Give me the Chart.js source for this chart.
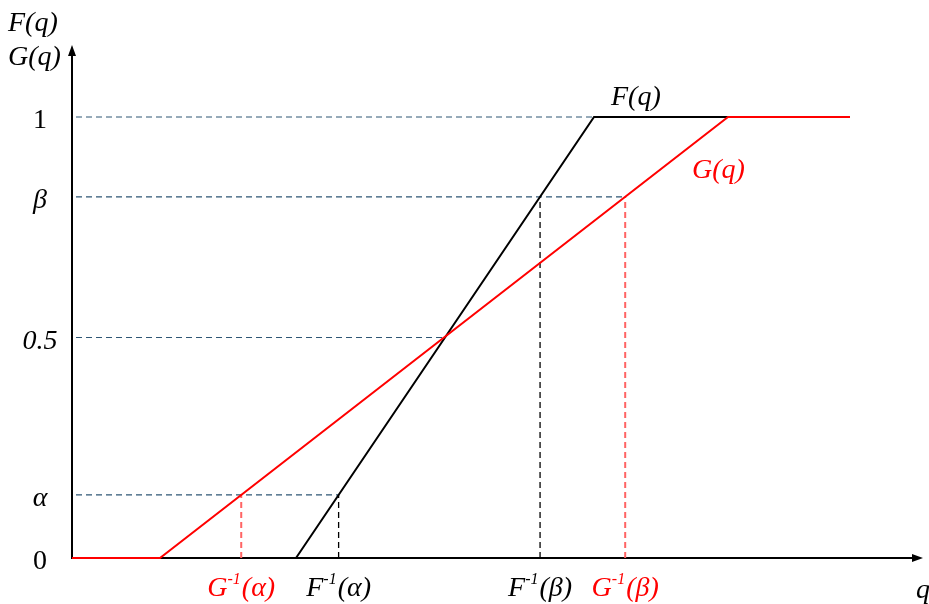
<!DOCTYPE html>
<html>
<head>
<meta charset="utf-8">
<script src="https://cdn.jsdelivr.net/npm/chart.js@4/dist/chart.umd.min.js"></script>
<style>
  html, body { margin: 0; padding: 0; background: #fff; }
  #wrap { width: 929px; height: 604px; position: relative; }
</style>
</head>
<body>
<div id="wrap"><canvas id="cdfChart"></canvas></div>
<script>
// Piecewise-linear CDFs, q in arbitrary units
const fQ = [22.4, 52.2, 77.8];
const fP = [0, 1, 1];
const gQ = [0, 8.8, 65.6, 77.8];
const gP = [0, 0, 1, 1];

// probability levels shown on the vertical axis
const alpha = 0.143;
const beta = 0.819;
const yTickValues = [0, alpha, 0.5, beta, 1];
const yTickLabels = ['0', 'α', '0.5', 'β', '1'];
const yTickItalic = [false, true, true, true, false];

const serif = '"Liberation Serif", "Times New Roman", serif';

// inverse of a rising piecewise-linear CDF
function inverse(qs, ps, p) {
    for (let i = 1; i < qs.length; i++) {
        if (ps[i] > ps[i - 1] && p >= ps[i - 1] && p <= ps[i]) {
            return qs[i - 1] + (p - ps[i - 1]) / (ps[i] - ps[i - 1]) * (qs[i] - qs[i - 1]);
        }
    }
    return qs[qs.length - 1];
}

const fA = inverse(fQ, fP, alpha), gA = inverse(gQ, gP, alpha);
const fB = inverse(fQ, fP, beta), gB = inverse(gQ, gP, beta);
// where both curves meet (0.5 level)
const crossQ = inverse(fQ, fP, 0.5);

const xTicks = [gA, fA, fB, gB];
const xTickNames = [['G', '(α)'], ['F', '(α)'], ['F', '(β)'], ['G', '(β)']];
const xTickColors = ['#ff0000', '#000', '#000', '#ff0000'];

const toPts = (qs, ps) => qs.map((q, i) => ({ x: q, y: ps[i] }));

const startQ = 0.4;
const hGuide = (y, q) => ({
    data: [{ x: startQ, y: y }, { x: q, y: y }],
    showLine: true, borderColor: '#2e5674', borderWidth: 1.2, borderDash: [6, 4],
    pointRadius: 0, clip: false
});
const vGuide = (q, y, color, w) => ({
    data: [{ x: q, y: 0 }, { x: q, y: y }],
    showLine: true, borderColor: color, borderWidth: w, borderDash: [6, 4],
    pointRadius: 0, clip: false
});

// axes and arrows under the curves, text on top
const drawExtras = {
    id: 'drawExtras',
    beforeDatasetsDraw(chart) {
        const { ctx, chartArea: a, scales: { x, y } } = chart;
        const x0 = x.getPixelForValue(0), y0 = y.getPixelForValue(0);
        ctx.save();
        ctx.strokeStyle = '#000';
        ctx.fillStyle = '#000';
        ctx.lineWidth = 2;
        ctx.beginPath();
        ctx.moveTo(x0, y0 + 1);
        ctx.lineTo(x0, a.top + 6);
        ctx.moveTo(x0, y0);
        ctx.lineTo(a.right - 6, y0);
        ctx.stroke();
        ctx.beginPath();
        ctx.moveTo(x0, a.top - 3);
        ctx.lineTo(x0 - 4, a.top + 8);
        ctx.lineTo(x0 + 4, a.top + 8);
        ctx.closePath();
        ctx.fill();
        ctx.beginPath();
        ctx.moveTo(a.right + 3, y0);
        ctx.lineTo(a.right - 8, y0 - 4);
        ctx.lineTo(a.right - 8, y0 + 4);
        ctx.closePath();
        ctx.fill();
        ctx.restore();
    },
    afterDraw(chart) {
        const { ctx, scales: { x, y } } = chart;
        ctx.save();
        // y labels
        ctx.fillStyle = '#000';
        ctx.textAlign = 'center';
        ctx.textBaseline = 'middle';
        yTickValues.forEach((v, i) => {
            ctx.font = (yTickItalic[i] ? 'italic ' : '') + '28px ' + serif;
            ctx.fillText(yTickLabels[i], 40, y.getPixelForValue(v) + 4);
        });

        // x labels with superscript -1
        ctx.textBaseline = 'alphabetic';
        ctx.textAlign = 'left';
        xTicks.forEach((v, i) => {
            const [head, tail] = xTickNames[i];
            const big = 'italic 28px ' + serif, small = 'italic 16px ' + serif;
            ctx.font = big; const w1 = ctx.measureText(head).width, w3 = ctx.measureText(tail).width;
            ctx.font = small; const w2 = ctx.measureText('-1').width + 1;
            let px = x.getPixelForValue(v) - (w1 + w2 + w3) / 2;
            const base = 596;
            ctx.fillStyle = xTickColors[i];
            ctx.font = big; ctx.fillText(head, px, base); px += w1;
            ctx.font = small; ctx.fillText('-1', px, base - 12); px += w2;
            ctx.font = big; ctx.fillText(tail, px, base);
        });

        // axis titles and curve names
        ctx.fillStyle = '#000';
        ctx.font = 'italic 28px ' + serif;
        ctx.fillText('F(q)', 8, 31);
        ctx.fillText('G(q)', 8, 65);
        ctx.fillText('q', 916, 598);
        ctx.fillText('F(q)', x.getPixelForValue(fQ[1]) + 17, y.getPixelForValue(1) - 12);
        ctx.fillStyle = '#ff0000';
        ctx.fillText('G(q)', x.getPixelForValue(gQ[2]) - 36, y.getPixelForValue(beta) - 19);
        ctx.restore();
    }
};

new Chart(document.getElementById('cdfChart'), {
    type: 'scatter',
    data: {
        datasets: [
            { label: 'G(q)', data: toPts(gQ, gP), showLine: true, borderColor: '#ff0000', borderWidth: 2, pointRadius: 0, clip: false },
            { label: 'F(q)', data: toPts(fQ, fP), showLine: true, borderColor: '#000', borderWidth: 2, pointRadius: 0, clip: false },
            hGuide(1, fQ[1]),
            hGuide(beta, gB),
            hGuide(0.5, crossQ),
            hGuide(alpha, fA),
            vGuide(gA, alpha, '#ff6464', 2),
            vGuide(fA, alpha, '#000', 1.3),
            vGuide(fB, beta, '#000', 1.3),
            vGuide(gB, beta, '#ff6464', 2)
        ]
    },
    options: {
        responsive: true,
        maintainAspectRatio: false,
        animation: false,
        layout: { padding: { left: 72, right: 9, top: 48, bottom: 46 } },
        scales: {
            x: { type: 'linear', min: 0, max: 84.8, display: false },
            y: { type: 'linear', min: 0, max: 1.1565, display: false }
        },
        plugins: { legend: { display: false }, tooltip: { enabled: false } }
    },
    plugins: [drawExtras]
});
</script>
</body>
</html>
